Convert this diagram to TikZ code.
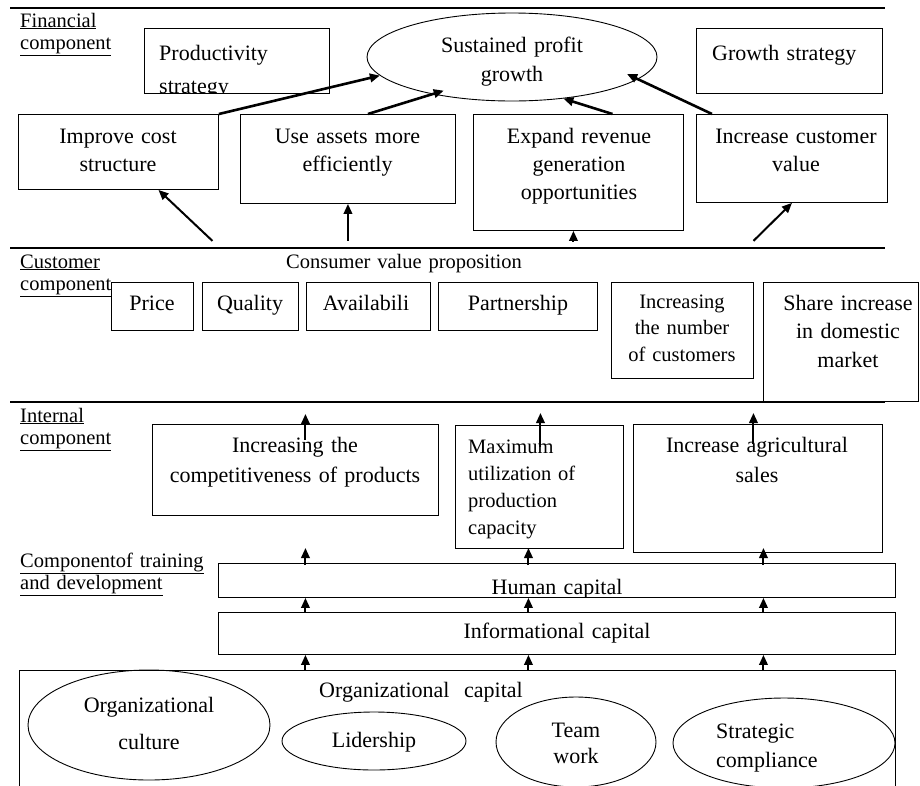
\documentclass[tikz,border=0pt]{standalone}
\usepackage{fontspec}
\setmainfont{Liberation Serif}
\usetikzlibrary{arrows.meta,shapes.geometric}

\begin{document}
\begin{tikzpicture}[x=1pt,y=-1pt,
	box/.style={draw, line width=0.9pt, inner sep=0pt, anchor=north west},
	oval/.style={draw, ellipse, line width=0.9pt, inner sep=0pt},
	txt/.style={inner sep=0pt, text width=320pt, align=center, anchor=base, font=\fontsize{22}{28}\selectfont},
	ltxt/.style={inner sep=0pt, text width=220pt, align=left, anchor=base west, font=\fontsize{22}{29}\selectfont},
	lbl/.style={inner sep=0pt, text width=300pt, align=left, anchor=base west, font=\fontsize{20.5}{22.5}\selectfont},
	sep/.style={line width=1.2pt},
	arr/.style={line width=2pt, -{Triangle[length=10pt,width=8.5pt]}},
	thickarr/.style={arr, line width=2.6pt}]
	\useasboundingbox (0,0) rectangle (920,785);
	\clip (0,0) rectangle (920,785);

	% section lines
	\draw[sep] (10,8) -- (885,8);
	\draw[sep] (10,248) -- (885,248);
	\draw[sep] (10,402) -- (885,402);

	% financial component
	\node[lbl] (fin) at (20,27) {\underline{Financial}\\\underline{component}};
	\node[box, minimum width=185pt, minimum height=65pt] (prod) at (144,28) {};
	\begin{scope}
		\clip (prod.north west) rectangle (prod.south east);
		\node[ltxt, font=\fontsize{22}{33}\selectfont] (prodtxt) at (159,60) {Productivity\\strategy};
	\end{scope}
	\node[oval, minimum width=290pt, minimum height=88pt] (profit) at (512,57) {};
	\node[txt, font=\fontsize{22}{29}\selectfont] (profittxt) at (512,52) {Sustained profit\\growth};
	\node[box, minimum width=186pt, minimum height=65pt] (growth) at (696,28) {};
	\node[ltxt] (growthtxt) at (712,60) {Growth strategy};

	\node[box, minimum width=200pt, minimum height=75pt] (cost) at (18,114) {};
	\node[txt] (costtxt) at (118,143) {Improve cost\\structure};
	\node[box, minimum width=215pt, minimum height=89pt] (assets) at (240,114) {};
	\node[txt] (assetstxt) at (347.5,143) {Use assets more\\efficiently};
	\node[box, minimum width=210pt, minimum height=116pt] (revenue) at (473,114) {};
	\node[txt] (revenuetxt) at (579,143) {Expand revenue\\generation\\opportunities};
	\node[box, minimum width=191pt, minimum height=88pt] (custval) at (696,114) {};
	\node[txt] (custvaltxt) at (796,143) {Increase customer\\value};

	\draw[thickarr] (cost.north east) -- (profit.188);
	\draw[thickarr, shorten >=-12pt] ([xshift=20pt]assets.north) -- (profit.205);
	\draw[thickarr] ([xshift=34pt]revenue.north) -- (profit.321);
	\draw[thickarr, shorten >=-12pt] ([xshift=16pt]custval.north west) -- (profit.350);

	\draw[arr] ([xshift=94pt,yshift=-51pt]cost.south) -- ([xshift=40pt]cost.south);
	\draw[arr] ([yshift=-37pt]assets.south) -- (assets.south);
	\draw[arr] ([xshift=-5pt,yshift=-11pt]revenue.south) -- ([xshift=-5pt]revenue.south);
	\draw[arr] ([xshift=-38.5pt,yshift=-38pt]custval.south) -- (custval.south);

	% customer component
	\node[lbl] (cust) at (20,268) {\underline{Customer}\\\underline{component}};
	\node[lbl] (consumer) at (286,268) {Consumer value proposition};
	\node[box, minimum width=82pt, minimum height=48pt] (price) at (111,282) {};
	\node[txt] (pricetxt) at (152,310) {Price};
	\node[box, minimum width=96pt, minimum height=48pt] (quality) at (202,282) {};
	\node[txt] (qualitytxt) at (250,310) {Quality};
	\node[box, minimum width=124pt, minimum height=48pt] (avail) at (306,282) {};
	\node[txt] (availtxt) at (366,310) {Availabili};
	\node[box, minimum width=159pt, minimum height=48pt] (partner) at (438,282) {};
	\node[txt] (partnertxt) at (518,310) {Partnership};
	\node[box, minimum width=142pt, minimum height=96pt] (number) at (611,282) {};
	\node[txt, font=\fontsize{20.5}{26.5}\selectfont] (numbertxt) at (682,308) {Increasing\\the number\\of customers};
	\node[box, minimum width=155pt, minimum height=119pt] (share) at (763,282) {};
	\node[txt, font=\fontsize{22}{28.5}\selectfont] (sharetxt) at (848,310) {Share increase\\in domestic\\market};

	% internal component
	\node[lbl] (intern) at (20,422) {\underline{Internal}\\\underline{component}};
	\node[box, minimum width=286pt, minimum height=91pt] (comp) at (152,424) {};
	\node[txt, font=\fontsize{22}{30}\selectfont] (comptxt) at (295,452) {Increasing the\\competitiveness of products};
	\node[box, minimum width=168pt, minimum height=123pt] (maxcap) at (455,425) {};
	\node[ltxt, font=\fontsize{20.5}{27}\selectfont] (maxcaptxt) at (468,453) {Maximum\\utilization of\\production\\capacity};
	\node[box, minimum width=249pt, minimum height=128pt] (agri) at (633,424) {};
	\node[txt, font=\fontsize{22}{30}\selectfont] (agritxt) at (757,452) {Increase agricultural\\sales};

	\draw[arr] ([xshift=10pt,yshift=-16pt]comp.north) -- ([xshift=10pt,yshift=10pt]comp.north);
	\draw[arr] ([xshift=1pt,yshift=-22pt]maxcap.north) -- ([xshift=1pt,yshift=12pt]maxcap.north);
	\draw[arr] ([xshift=-4.5pt,yshift=-20pt]agri.north) -- ([xshift=-4.5pt,yshift=11pt]agri.north);

	% training and development
	\node[lbl] (train) at (20,567) {\underline{Componentof training}\\\underline{and development}};
	\node[box, minimum width=677pt, minimum height=34pt] (human) at (218,563) {};
	\begin{scope}
		\clip (human.north west) rectangle (human.south east);
		\node[txt] (humantxt) at (557,594) {Human capital};
	\end{scope}
	\node[box, minimum width=677pt, minimum height=42pt] (info) at (218,612) {};
	\node[txt] (infotxt) at (557,638) {Informational capital};
	\node[box, minimum width=876pt, minimum height=130pt] (org) at (19,670) {};
	\node[txt] (orgtxt) at (421,697) {Organizational\ \ capital};

	\foreach \d in {-251.5,-28.5,206.5} {
		\coordinate (k) at ([xshift=\d pt]human.north);
		\draw[arr] ([yshift=-2pt]k) -- ++(0,-17);
		\draw[arr] (info.north -| k) -- (human.south -| k);
		\draw[arr] (org.north -| k) -- (info.south -| k);
	}

	\node[oval, minimum width=242pt, minimum height=110pt] (culture) at (149,725) {};
	\node[txt, font=\fontsize{22}{37}\selectfont] (culturetxt) at (149,712) {Organizational\\culture};
	\node[oval, minimum width=184pt, minimum height=58pt] (lider) at (374,741) {};
	\node[txt] (lidertxt) at (374,747) {Lidership};
	\node[oval, minimum width=160pt, minimum height=90pt] (team) at (576,742) {};
	\node[txt, font=\fontsize{22}{26}\selectfont] (teamtxt) at (576,737) {Team\\work};
	\node[oval, minimum width=222pt, minimum height=90pt] (compliance) at (784,743) {};
	\node[ltxt] (compliancetxt) at (716,738) {Strategic\\compliance};
\end{tikzpicture}
\end{document}
